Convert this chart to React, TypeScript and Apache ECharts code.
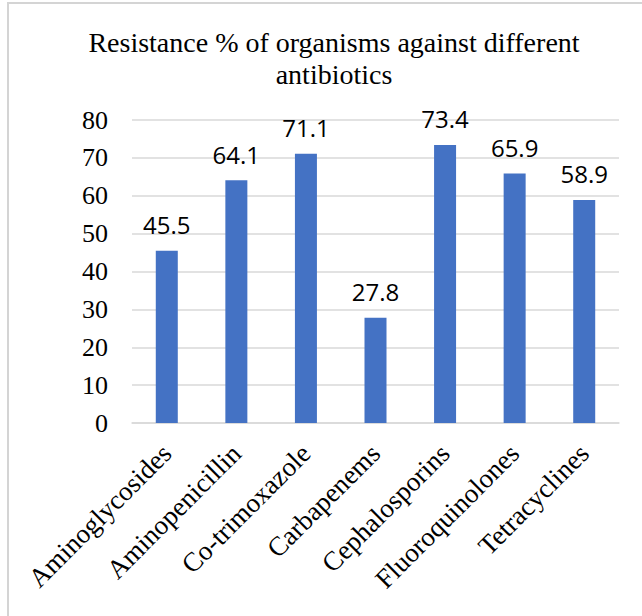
import React, { useEffect, useRef } from "react";
import * as echarts from "echarts";

const categories = [
  "Aminoglycosides",
  "Aminopenicillin",
  "Co-trimoxazole",
  "Carbapenems",
  "Cephalosporins",
  "Fluoroquinolones",
  "Tetracyclines",
];
const resistance = [45.5, 64.1, 71.1, 27.8, 73.4, 65.9, 58.9];
const titleLines = ["Resistance % of organisms against different", "antibiotics"];

const SERIF = "'Liberation Serif', 'Times New Roman', serif";

export default function App() {
  const ref = useRef<HTMLDivElement>(null);
  useEffect(() => {
    if (!ref.current) return;
    const chart = echarts.init(ref.current, null, { renderer: "svg" });
    chart.setOption({
      animation: false,
      backgroundColor: "#fff",
      title: {
        text: titleLines.join("\n"),
        left: 329,
        top: 21,
        textAlign: "center",
        textStyle: {
          fontFamily: SERIF,
          fontSize: 28,
          lineHeight: 32,
          fontWeight: "normal",
          color: "#000",
        },
      },
      graphic: [
        {
          type: "polyline",
          shape: { points: [[8, 620], [8, 3], [650, 3]] },
          style: { stroke: "#d4d4d4", lineWidth: 2, fill: "none" },
          silent: true,
        },
      ],
      grid: { left: 132, right: 23, top: 120, bottom: 193 },
      xAxis: {
        type: "category",
        data: categories,
        axisLine: { show: true, lineStyle: { color: "#d9d9d9", width: 1.5 } },
        axisTick: { show: false },
        axisLabel: {
          interval: 0,
          rotate: 45,
          margin: 26,
          fontFamily: SERIF,
          fontSize: 27,
          color: "#000",
        },
      },
      yAxis: {
        type: "value",
        min: 0,
        max: 80,
        interval: 10,
        axisLine: { show: false },
        axisTick: { show: false },
        splitLine: { lineStyle: { color: "#d9d9d9", width: 1.5 } },
        axisLabel: {
          margin: 24,
          fontFamily: SERIF,
          fontSize: 26,
          color: "#000",
        },
      },
      series: [
        {
          type: "bar",
          data: resistance,
          barWidth: 22,
          itemStyle: { color: "#4472C4" },
          label: {
            show: true,
            position: "top",
            distance: 14,
            fontFamily: "'Open Sans', sans-serif",
            fontSize: 24,
            color: "#000",
          },
        },
      ],
    });
    return () => chart.dispose();
  }, []);
  return (
    <div
      ref={ref}
      style={{ position: "fixed", left: 0, top: 0, width: 642, height: 616 }}
    />
  );
}
